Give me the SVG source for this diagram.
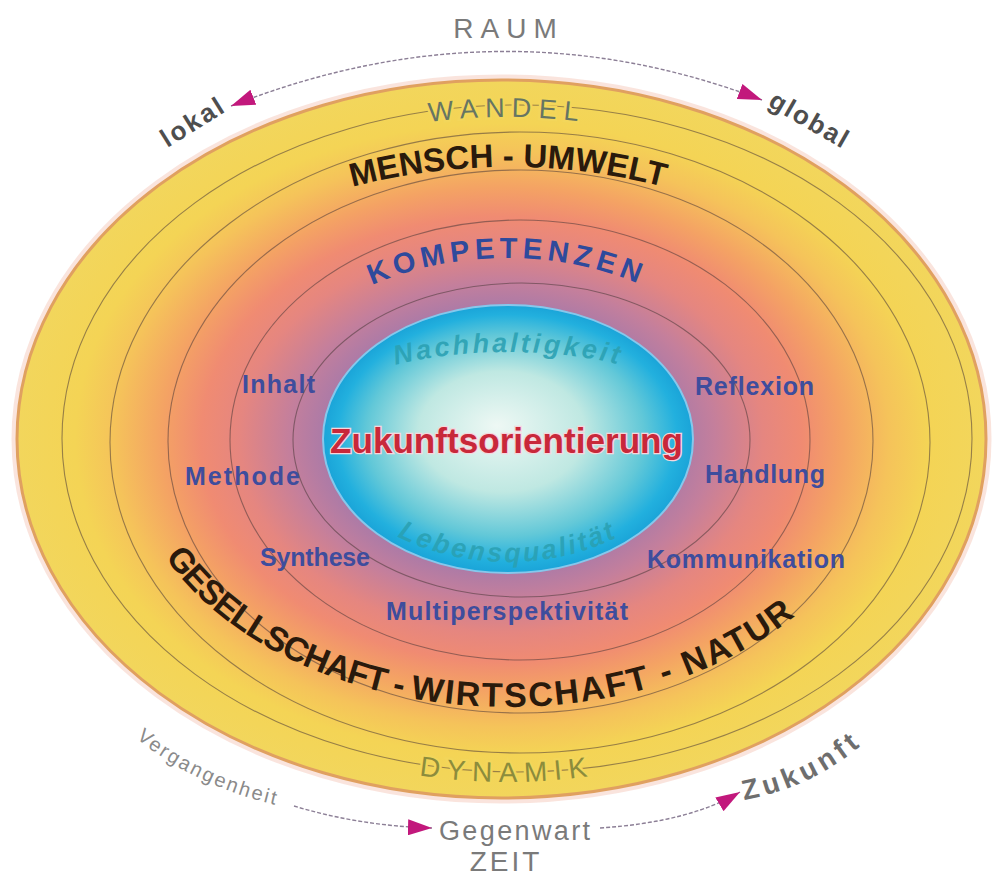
<svg xmlns="http://www.w3.org/2000/svg" width="992" height="878" viewBox="0 0 992 878">
<style>
.ring{fill:none;stroke:#4a3838;stroke-opacity:.55;stroke-width:1.1}
.conn{fill:none;stroke:#8c7f96;stroke-width:1.4;stroke-dasharray:4 2}
.f{font-family:"Liberation Sans",Arial,sans-serif}
.comp{font-family:"Liberation Sans",Arial,sans-serif;font-weight:bold;font-size:25px;fill:#3e4d9d}
.band{font-family:"Liberation Sans",Arial,sans-serif;font-weight:bold;fill:#2a1a0c}
.grey{font-family:"Liberation Sans",Arial,sans-serif;fill:#7a7a7a}
.teal{font-family:"Liberation Sans",Arial,sans-serif;font-style:italic;font-weight:bold;font-size:27px;fill:#2aa0b2;fill-opacity:.88}
</style>
<defs>
<radialGradient id="bg" cx="0.5" cy="0.5" r="0.5">
<stop offset="0" stop-color="#9a78ac"/>
<stop offset="0.36" stop-color="#a97aa8"/>
<stop offset="0.44" stop-color="#c47f9c"/>
<stop offset="0.54" stop-color="#e58680"/>
<stop offset="0.62" stop-color="#f08b72"/>
<stop offset="0.70" stop-color="#f4a264"/>
<stop offset="0.80" stop-color="#f5c35a"/>
<stop offset="0.88" stop-color="#f4d455"/>
<stop offset="1" stop-color="#f2d65c"/>
</radialGradient>
<radialGradient id="core" cx="0.5" cy="0.5" r="0.5" fx="0.47" fy="0.45">
<stop offset="0" stop-color="#eef8f4"/>
<stop offset="0.45" stop-color="#bfe8e2"/>
<stop offset="0.75" stop-color="#62c8d8"/>
<stop offset="0.92" stop-color="#22b0de"/>
<stop offset="1" stop-color="#1aa4d8"/>
</radialGradient>
<marker id="ah" viewBox="0 -8 24 16" refX="24" refY="0" markerWidth="24" markerHeight="16" markerUnits="userSpaceOnUse" orient="auto-start-reverse">
<path d="M0,-8 L24,0 L0,8 Z" fill="#c2187c"/>
</marker>
<path id="p-wandel" d="M 57 442 A 450 325 0 0 1 957 442"/>
<path id="p-mensch" d="M 93 441 A 415 274 0 0 1 923 441"/>
<path id="p-komp" d="M 250 441 A 257 183 0 0 1 764 441"/>
<path id="p-nach" d="M 293 439 A 215 87 0 0 1 723 439"/>
<path id="p-leb" d="M 327 439 A 181 123 0 0 0 689 439"/>
<path id="p-ges" d="M 127 441 A 381 266 0 0 0 889 441"/>
<path id="p-dyn" d="M 57 440 A 450 342 0 0 0 957 440"/>
<path id="p-verg" d="M 136 738 Q 200 790 290 808"/>
<path id="p-zuk" d="M 744 800 Q 822 786 878 730"/>
</defs>
<rect width="992" height="878" fill="#ffffff"/>

<g id="outer">
<ellipse cx="501.5" cy="439" rx="487" ry="361.5" fill="none" stroke="#f4c4b4" stroke-width="6" stroke-opacity="0.45"/>
<ellipse cx="501.5" cy="439" rx="484.5" ry="359" fill="url(#bg)" stroke="#e0a060" stroke-width="3"/>
</g>
<g id="rings">
<ellipse class="ring" cx="517" cy="438.5" rx="455" ry="333.5"/>
<ellipse class="ring" cx="520" cy="442.5" rx="410" ry="310.5"/>
<ellipse class="ring" cx="520.5" cy="441.5" rx="352.5" ry="271.5"/>
<ellipse class="ring" cx="520" cy="440" rx="290" ry="220"/>
<ellipse class="ring" cx="521.5" cy="440" rx="228.5" ry="157"/>
</g>
<g id="core-node">
<ellipse cx="508" cy="439" rx="185" ry="134" fill="url(#core)" stroke="#86c8ec" stroke-width="2"/>
<text class="f" x="506.5" y="453" text-anchor="middle" font-size="35" font-weight="bold" fill="#c8283a" stroke="#f6d6dc" stroke-width="2.5" paint-order="stroke" textLength="353" lengthAdjust="spacingAndGlyphs">Zukunftsorientierung</text>
<text class="teal" letter-spacing="3"><textPath href="#p-nach" startOffset="50%" text-anchor="middle">Nachhaltigkeit</textPath></text>
<text class="teal" letter-spacing="2.8"><textPath href="#p-leb" startOffset="50%" text-anchor="middle">Lebensqualität</textPath></text>
</g>

<g id="wandel">
<text class="f" font-size="27" letter-spacing="7" fill="#667563" stroke="#f3d65a" stroke-width="5" paint-order="stroke"><textPath href="#p-wandel" startOffset="50%" text-anchor="middle">WANDEL</textPath></text>
</g>
<g id="mensch-umwelt">
<text class="band" font-size="33"><textPath href="#p-mensch" startOffset="50%" text-anchor="middle">MENSCH - UMWELT</textPath></text>
</g>
<g id="kompetenzen">
<text class="f" font-size="29" font-weight="bold" letter-spacing="5" fill="#2e4a9c"><textPath href="#p-komp" startOffset="50%" text-anchor="middle">KOMPETENZEN</textPath></text>
</g>
<g id="competences">
<text class="comp" x="242" y="393" textLength="73">Inhalt</text>
<text class="comp" x="185" y="485" textLength="115">Methode</text>
<text class="comp" x="260" y="566" textLength="110">Synthese</text>
<text class="comp" x="695" y="395" textLength="119">Reflexion</text>
<text class="comp" x="705" y="483" textLength="120">Handlung</text>
<text class="comp" x="647" y="568" textLength="198">Kommunikation</text>
<text class="comp" x="386" y="620" textLength="242">Multiperspektivität</text>
</g>
<g id="gesellschaft">
<text class="band" font-size="34"><textPath href="#p-ges" startOffset="124"><tspan letter-spacing="-1">GESELLSCHAFT - </tspan><tspan letter-spacing="2">WIRTSCHAFT - NATUR</tspan></textPath></text>
</g>
<g id="dynamik">
<text class="f" font-size="28" letter-spacing="7" fill="#8c8c3c" stroke="#f3d65a" stroke-width="5" paint-order="stroke"><textPath href="#p-dyn" startOffset="50%" text-anchor="middle">DYNAMIK</textPath></text>
</g>

<g id="connectors">
<path class="conn" d="M 231 106 Q 500 0 762 100" marker-start="url(#ah)" marker-end="url(#ah)"/>
<path class="conn" d="M 294 806 Q 360 826 432 828" marker-end="url(#ah)"/>
<path class="conn" d="M 600 828 Q 690 822 740 792" marker-end="url(#ah)"/>
</g>

<g id="raum"><text class="grey" x="508.5" y="38" text-anchor="middle" font-size="28" letter-spacing="7">RAUM</text></g>
<g id="lokal" transform="translate(192,122) rotate(-32)"><text class="f" x="1" y="9" text-anchor="middle" font-size="26" font-weight="bold" letter-spacing="2.5" fill="#4e4e4e">lokal</text></g>
<g id="global" transform="translate(808,121) rotate(30)"><text class="f" x="1" y="7" text-anchor="middle" font-size="26" font-weight="bold" letter-spacing="2" fill="#4e4e4e">global</text></g>
<g id="vergangenheit"><text class="f" font-size="20" letter-spacing="2.2" fill="#8a8a8a"><textPath href="#p-verg">Vergangenheit</textPath></text></g>
<g id="gegenwart"><text class="grey" x="439" y="840" font-size="27" textLength="151">Gegenwart</text></g>
<g id="zukunft"><text class="f" font-size="28" font-weight="bold" letter-spacing="4.5" fill="#6e6e6e"><textPath href="#p-zuk">Zukunft</textPath></text></g>
<g id="zeit"><text class="grey" x="506" y="871" text-anchor="middle" font-size="28" letter-spacing="3">ZEIT</text></g>
</svg>
